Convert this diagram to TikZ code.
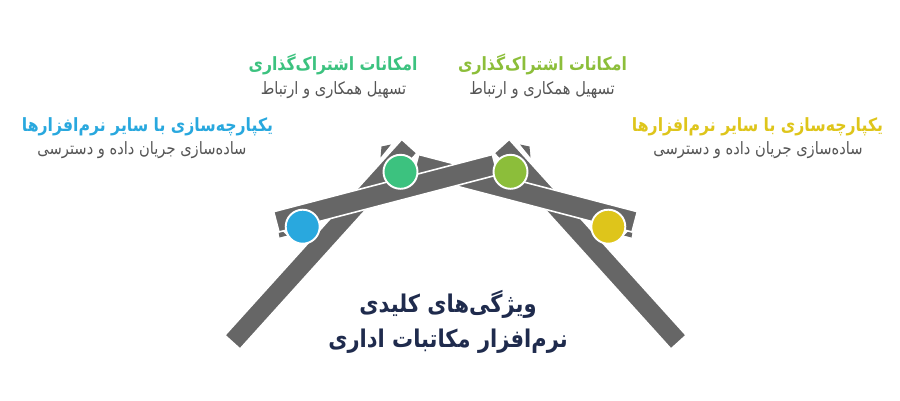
\documentclass[tikz,border=0pt]{standalone}
\usepackage{fontspec}
\newfontfamily\arabicfont[Script=Arabic,FakeStretch=0.86]{DejaVu Sans}
\TeXXeTstate=1
\definecolor{barGray}{HTML}{666666}
\definecolor{stepBlue}{HTML}{29A8DE}
\definecolor{stepGreen}{HTML}{3CC27F}
\definecolor{stepOlive}{HTML}{8CBE3A}
\definecolor{stepYellow}{HTML}{DEC51B}
\definecolor{titleNavy}{HTML}{1F2B4D}
\definecolor{subGray}{HTML}{555555}
% one leg and one bar of the roof, in pixel coordinates
\newcommand{\roofleg}{%
  \fill[barGray] (381.5,146.5) -- (391,144.5) -- (380.5,157.5) -- cycle;
  \begin{scope}[shift={(240,349)},rotate=47.9]
    \draw[bar] (0,0) rectangle (264,-20.5);
  \end{scope}}
\newcommand{\roofbar}{%
  \fill[barGray] (277.5,226) -- (279.5,237.5) -- (287,235.5) -- cycle;
  \begin{scope}[shift={(279,232)},rotate=14.65]
    \draw[bar] (0,0) rectangle (226,-21);
  \end{scope}}
\begin{document}
\begin{tikzpicture}[x=0.02cm,y=-0.02cm,
    bar/.style={fill=barGray,draw=white,line width=0.9pt},
    dot/.style={circle,draw=white,line width=1.1pt,minimum size=0.68cm,inner sep=0pt},
    head/.style={font=\arabicfont\bfseries\fontsize{10.4}{12}\selectfont},
    sub/.style={font=\arabicfont\fontsize{9.7}{11}\selectfont,text=subGray},
    title/.style={font=\arabicfont\bfseries\fontsize{13.9}{20}\selectfont,text=titleNavy,align=center}
  ]
\useasboundingbox (0,0) rectangle (900,400);

\begin{scope}[shift={(911,0)},xscale=-1] \roofleg \end{scope}
\roofleg
\begin{scope}[shift={(911,0)},xscale=-1] \roofbar \end{scope}
\roofbar

\node[dot,fill=stepBlue] (c1) at (302.7,226.7) {};
\node[dot,fill=stepGreen] (c2) at (400.5,171.8) {};
\node[dot,fill=stepOlive] (c3) at (510.5,171.8) {};
\node[dot,fill=stepYellow] (c4) at (608.3,226.7) {};

\node[head,text=stepBlue] (h1) at (147.5,127) {\beginR یکپارچه‌سازی با سایر نرم‌افزارها\endR};
\node[sub] (s1) at (142,150.5) {\beginR ساده‌سازی جریان داده و دسترسی\endR};
\node[head,text=stepGreen] (h2) at (333,64) {\beginR امکانات اشتراک‌گذاری\endR};
\node[sub] (s2) at (333.5,90) {\beginR تسهیل همکاری و ارتباط\endR};
\node[head,text=stepOlive] (h3) at (542.5,64) {\beginR امکانات اشتراک‌گذاری\endR};
\node[sub] (s3) at (542,90) {\beginR تسهیل همکاری و ارتباط\endR};
\node[head,text=stepYellow] (h4) at (757.5,127) {\beginR یکپارچه‌سازی با سایر نرم‌افزارها\endR};
\node[sub] (s4) at (758,150.5) {\beginR ساده‌سازی جریان داده و دسترسی\endR};

\node[title] (t) at (448,322) {\beginR ویژگی‌های کلیدی\endR\\\beginR نرم‌افزار مکاتبات اداری\endR};
\end{tikzpicture}
\end{document}
